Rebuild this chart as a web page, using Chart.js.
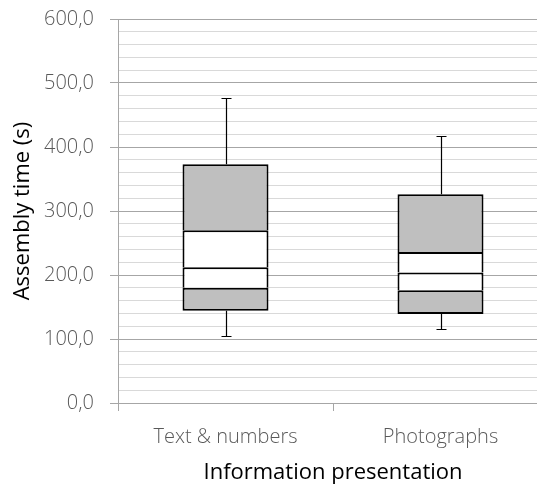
<!DOCTYPE html>
<html>
<head>
<meta charset="utf-8">
<script src="https://cdn.jsdelivr.net/npm/chart.js@4"></script>
<style>
html,body{margin:0;padding:0;overflow:hidden;background:#fff;width:537px;height:486px;}
#wrap{width:560px;height:486px;}
</style>
</head>
<body>
<div id="wrap"><canvas id="c" width="560" height="486"></canvas></div>
<script>
const categories = ['Text & numbers', 'Photographs'];
const whiskerMin = [104, 115];
const q1 = [144, 139];
const lowerMid = [180, 176];
const median = [212, 204];
const upperMid = [270, 236];
const q3 = [373, 326];
const whiskerMax = [476, 417];
const yTicks = [0, 100, 200, 300, 400, 500, 600];

const GRAY = '#bfbfbf';
const FONT = "'Open Sans', 'Segoe UI', sans-serif";

function seg(lo, hi, color, bw) {
  return {
    data: categories.map((_, i) => [lo[i], hi[i]]),
    backgroundColor: color,
    borderColor: '#000',
    borderWidth: bw,
    borderSkipped: false,
    inflateAmount: 0,
    grouped: false,
    barPercentage: 0.4,
    categoryPercentage: 1.0
  };
}

const whiskerPlugin = {
  id: 'whiskers',
  beforeDatasetsDraw(chart) {
    const {ctx, scales: {x, y}} = chart;
    ctx.save();
    ctx.strokeStyle = '#000';
    ctx.lineWidth = 1.2;
    categories.forEach((c, i) => {
      const cx = Math.round(x.getPixelForValue(i)) + 0.5;
      const half = 5;
      const pairs = [[q3[i], whiskerMax[i]], [q1[i], whiskerMin[i]]];
      pairs.forEach(([from, to]) => {
        const y0 = y.getPixelForValue(from);
        const y1 = Math.round(y.getPixelForValue(to)) + 0.5;
        ctx.beginPath();
        ctx.moveTo(cx, y0);
        ctx.lineTo(cx, y1);
        ctx.moveTo(cx - half, y1);
        ctx.lineTo(cx + half, y1);
        ctx.stroke();
      });
    });
    ctx.restore();
  }
};

const upperBorder = {left: 2, right: 2, bottom: 0, top: 2};

new Chart(document.getElementById('c'), {
  type: 'bar',
  data: {
    labels: categories,
    datasets: [
      seg(q1, lowerMid, GRAY, 2),
      seg(lowerMid, median, '#ffffff', upperBorder),
      seg(median, upperMid, '#ffffff', upperBorder),
      seg(upperMid, q3, GRAY, upperBorder)
    ]
  },
  plugins: [whiskerPlugin],
  options: {
    responsive: false,
    animation: false,
    events: [],
    layout: {padding: {left: 8, right: 12, top: 19, bottom: 0}},
    plugins: {legend: {display: false}, tooltip: {enabled: false}},
    scales: {
      x: {
        offset: true,
        grid: {
          offset: true,
          drawOnChartArea: false,
          drawTicks: true,
          tickLength: 8,
          color: '#a6a6a6',
          lineWidth: 1
        },
        border: {display: true, color: '#a6a6a6', width: 1},
        ticks: {color: '#595959', font: {family: FONT, size: 20, weight: 300}, padding: 14},
        title: {display: true, text: 'Information presentation', color: '#000',
                font: {family: FONT, size: 22, weight: 400}, padding: {top: 0, bottom: 0}},
        afterFit(s) { s.height = 83; s.paddingLeft = 0; s.paddingRight = 0; }
      },
      y: {
        min: 0,
        max: 600,
        grid: {
          color: (c) => (c.tick && c.tick.value % 100 === 0) ? '#a6a6a6' : '#d9d9d9',
          tickColor: (c) => (c.tick && c.tick.value % 100 === 0) ? '#a6a6a6' : 'rgba(0,0,0,0)',
          lineWidth: 1,
          tickLength: 8
        },
        border: {display: true, color: '#a6a6a6', width: 1},
        ticks: {
          stepSize: 20,
          autoSkip: false,
          padding: 16,
          color: '#595959',
          font: {family: FONT, size: 20, weight: 300},
          callback: (v) => yTicks.includes(v) ? v.toFixed(1).replace('.', ',') : ''
        },
        title: {display: true, text: 'Assembly time (s)', color: '#000',
                font: {family: FONT, size: 22, weight: 400}, padding: {top: 2, bottom: 0}},
        afterFit(s) { s.width = 110; s.paddingTop = 0; s.paddingBottom = 0; }
      }
    }
  }
});
</script>
</body>
</html>
